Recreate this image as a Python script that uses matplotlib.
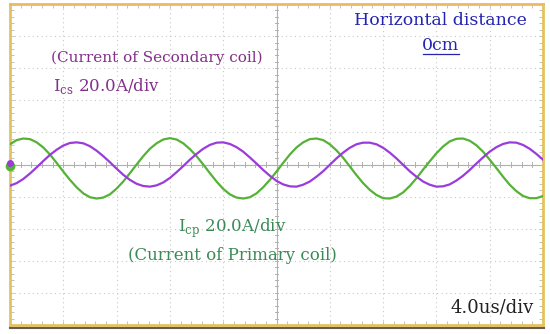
import matplotlib.pyplot as plt
import numpy as np

# time axis in us (4.0 us/div, 10 divisions)
t_us = np.arange(0, 40.5, 0.5)

# primary coil current Icp, in divisions (20.0 A/div)
i_primary = [0.63, 0.76, 0.81, 0.79, 0.69, 0.53, 0.31, 0.05, -0.22, -0.48,
             -0.71, -0.90, -1.02, -1.06, -1.03, -0.93, -0.75, -0.53, -0.27, -0.00,
             0.26, 0.49, 0.66, 0.78, 0.82, 0.78, 0.66, 0.48, 0.26, -0.00,
             -0.27, -0.53, -0.76, -0.93, -1.03, -1.06, -1.02, -0.90, -0.71, -0.48,
             -0.22, 0.05, 0.31, 0.53, 0.69, 0.79, 0.81, 0.76, 0.63, 0.44,
             0.21, -0.06, -0.33, -0.58, -0.79, -0.95, -1.05, -1.06, -1.00, -0.87,
             -0.67, -0.43, -0.16, 0.10, 0.35, 0.56, 0.72, 0.80, 0.81, 0.74,
             0.60, 0.40, 0.15, -0.11, -0.38, -0.63, -0.83, -0.98, -1.05, -1.05,
             -0.98]

# secondary coil current Ics, in divisions (20.0 A/div)
i_secondary = [-0.66, -0.58, -0.45, -0.28, -0.09, 0.11, 0.30, 0.46, 0.59, 0.67,
               0.69, 0.66, 0.57, 0.43, 0.26, 0.07, -0.13, -0.32, -0.48, -0.60,
               -0.67, -0.69, -0.65, -0.56, -0.42, -0.24, -0.05, 0.15, 0.33, 0.49,
               0.61, 0.68, 0.69, 0.64, 0.54, 0.40, 0.22, 0.03, -0.17, -0.35,
               -0.51, -0.62, -0.68, -0.69, -0.63, -0.53, -0.38, -0.21, -0.01, 0.19,
               0.37, 0.52, 0.63, 0.68, 0.68, 0.63, 0.52, 0.37, 0.19, -0.01,
               -0.21, -0.38, -0.53, -0.63, -0.69, -0.68, -0.62, -0.50, -0.35, -0.17,
               0.03, 0.22, 0.40, 0.54, 0.64, 0.69, 0.68, 0.61, 0.49, 0.33,
               0.15]

green = '#55b236'
purple = '#9a3cdc'
frame_col = '#e3c35e'
serif = ['DejaVu Serif']
fs = 12

fig = plt.figure(figsize=(5.5, 3.34), dpi=100)
ax = fig.add_axes([10 / 550, 9 / 334, 533 / 550, 321 / 334])
ax.set_xlim(0, 40)
ax.set_ylim(-5, 5)

# scope graticule
for gx in np.arange(4, 40, 4):
    ax.axvline(gx, color='#c8c8c8', lw=0.8, ls=(0, (1, 3)), zorder=0)
for gy in np.arange(-4, 5, 1):
    ax.axhline(gy, color='#c8c8c8', lw=0.8, ls=(0, (1, 3)), zorder=0)
ax.axhline(0, color='#b0b0b0', lw=0.8, zorder=0)
ax.axvline(20, color='#b0b0b0', lw=0.8, zorder=0)
for mx in np.arange(0, 40.01, 0.8):
    ax.plot([mx, mx], [-0.08, 0.08], color='#b0b0b0', lw=0.7, zorder=0)
for my in np.arange(-5, 5.01, 0.2):
    ax.plot([19.85, 20.15], [my, my], color='#b0b0b0', lw=0.7, zorder=0)

ax.set_xticks([])
ax.set_yticks([])
ax.set_xticks(np.arange(0, 40.01, 0.8), minor=True)
ax.set_yticks(np.arange(-5, 5.01, 0.2), minor=True)
ax.tick_params(which='minor', direction='in', length=3, color='#b8b8b8',
               top=True, right=True, labelbottom=False, labelleft=False)
for s in ax.spines.values():
    s.set_color(frame_col)
    s.set_linewidth(2)
ax.spines['top'].set_color('#efb863')

ax.plot(t_us, i_primary, color=green, lw=1.6, zorder=3)
ax.plot(t_us, i_secondary, color=purple, lw=1.6, zorder=3)

# channel markers on the left edge
ax.plot([0.0], [-0.05], 'o', color=green, ms=6, clip_on=False, zorder=4)
ax.plot([0.0], [0.05], 'o', color=purple, ms=4, clip_on=False, zorder=5)

# bottom dark edge under the frame
fig.add_artist(plt.Line2D([10 / 550, 544 / 550], [6 / 334, 6 / 334],
                          color='#6a5a50', lw=1.5))

ax.text(32.3, 4.5, 'Horizontal distance', color='#2424b0', fontsize=fs + 0.5,
        family=serif, ha='center', va='center')
ax.text(32.3, 3.7, '0cm', color='#2424b0', fontsize=fs + 0.5, family=serif,
        ha='center', va='center')
ax.plot([31.0, 33.7], [3.45, 3.45], color='#2424b0', lw=0.9)

ax.text(11.0, 3.33, '(Current of Secondary coil)', color='#82308a',
        fontsize=fs - 1, family=serif, ha='center', va='center')
ax.text(3.2, 2.45, r'I$_{\mathregular{cs}}$ 20.0A/div', color='#82308a',
        fontsize=fs, family=serif, ha='left', va='center')

ax.text(12.6, -2.0, r'I$_{\mathregular{cp}}$ 20.0A/div', color='#3b8a55',
        fontsize=fs, family=serif, ha='left', va='center')
ax.text(16.7, -2.85, '(Current of Primary coil)', color='#3b8a55',
        fontsize=fs, family=serif, ha='center', va='center')

ax.text(39.3, -4.45, '4.0us/div', color='#222222', fontsize=fs + 1,
        family=serif, ha='right', va='center')

plt.savefig('out.png', dpi=100)
